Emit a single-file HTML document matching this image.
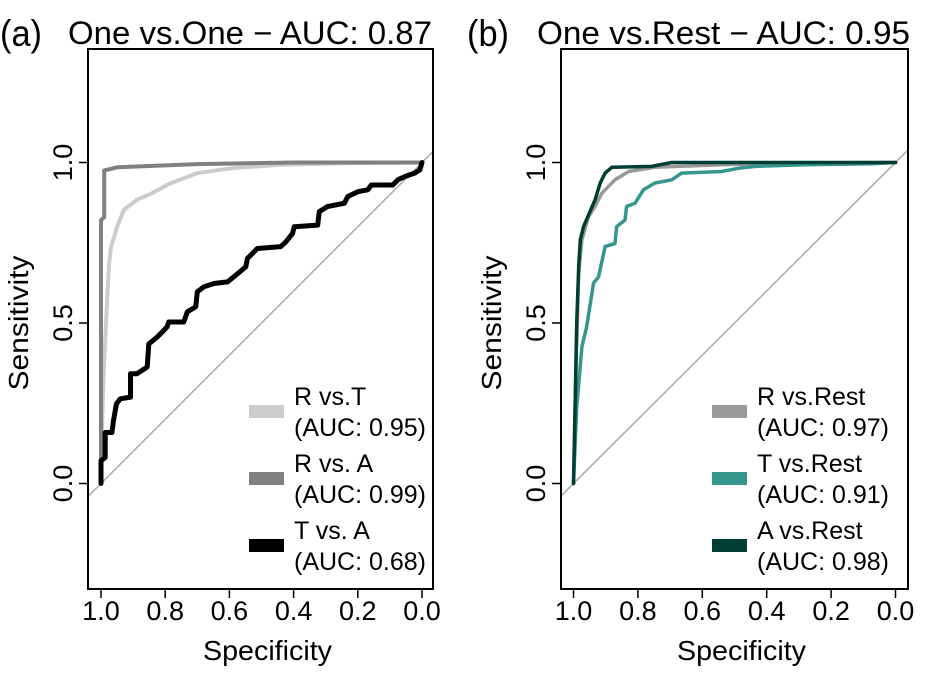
<!DOCTYPE html>
<html><head><meta charset="utf-8"><style>
html,body{margin:0;padding:0;background:#fff;}
svg{display:block;font-family:"Liberation Sans",Arial,sans-serif;}
</style></head><body>
<svg id="chart" width="931" height="683" viewBox="0 0 931 683"></svg>
<script>
// Panel (a) data: specificity / sensitivity
const aRTSpec=[1,0.996,0.992,0.981,0.975,0.969,0.955,0.95,0.929,0.888,0.841,0.784,0.7,0.596,0.44,0.231,0];
const aRTSens=[0,0.2,0.342,0.571,0.68,0.738,0.78,0.8,0.852,0.884,0.904,0.935,0.967,0.982,0.993,0.998,1];
const aRASpec=[1,1,0.99,0.99,0.95,0.7,0.4,0];
const aRASens=[0,0.82,0.83,0.975,0.985,0.995,1,1];
const aTASpec=[1,1,0.987,0.987,0.966,0.961,0.952,0.94,0.908,0.908,0.888,0.856,0.851,0.825,0.794,0.789,0.742,0.731,0.705,0.7,0.679,0.648,0.606,0.58,0.549,0.544,0.523,0.513,0.44,0.424,0.403,0.398,0.325,0.32,0.294,0.242,0.231,0.2,0.169,0.158,0.091,0.075,0.054,0.023,0.007,0.002,0];
const aTASens=[0,0.071,0.081,0.159,0.159,0.196,0.248,0.264,0.269,0.342,0.342,0.363,0.435,0.456,0.488,0.503,0.503,0.535,0.55,0.597,0.613,0.623,0.628,0.649,0.675,0.701,0.722,0.732,0.738,0.753,0.779,0.8,0.805,0.847,0.863,0.873,0.894,0.909,0.915,0.93,0.93,0.946,0.956,0.967,0.977,0.993,1];
// Panel (b) data
const bRSpec=[1,0.993,0.984,0.974,0.953,0.933,0.912,0.871,0.829,0.747,0.54,0.333,0];
const bRSens=[0,0.343,0.655,0.759,0.832,0.863,0.904,0.946,0.972,0.985,0.993,0.998,1];
const bTSpec=[1,0.99,0.974,0.959,0.938,0.922,0.902,0.871,0.866,0.84,0.835,0.809,0.783,0.747,0.695,0.664,0.54,0.488,0.436,0.281,0.074,0];
const bTSens=[0,0.239,0.426,0.489,0.624,0.644,0.738,0.748,0.8,0.821,0.863,0.873,0.915,0.936,0.946,0.967,0.972,0.982,0.988,0.993,0.996,1];
const bASpec=[1,0.995,0.99,0.984,0.979,0.969,0.953,0.933,0.917,0.902,0.881,0.757,0.695,0];
const bASens=[0,0.239,0.499,0.676,0.759,0.8,0.837,0.884,0.936,0.967,0.985,0.988,1,1];
const xTicks=[1.0,0.8,0.6,0.4,0.2,0.0];
const yTicks=[0.0,0.5,1.0];
const legendA=[["R vs.T","(AUC: 0.95)","#cccccc"],["R vs. A","(AUC: 0.99)","#808080"],["T vs. A","(AUC: 0.68)","#000000"]];
const legendB=[["R vs.Rest","(AUC: 0.97)","#999999"],["T vs.Rest","(AUC: 0.91)","#35968c"],["A vs.Rest","(AUC: 0.98)","#003d33"]];

const svg=document.getElementById('chart');
const NS='http://www.w3.org/2000/svg';
function mk(tag,attrs,parent){const e=document.createElementNS(NS,tag);for(const k in attrs)e.setAttribute(k,attrs[k]);(parent||svg).appendChild(e);return e;}

function panel(p){
  const g=mk('g',{});
  
  
  const xs=s=>p.x0+(1-s)*p.ux;
  const ys=v=>p.y0-v*p.uy;
  const clipId='clip-'+p.name;
  const cp=mk('clipPath',{id:clipId},g);
  mk('rect',{x:p.bl,y:p.bt,width:p.br-p.bl,height:p.bb-p.bt},cp);
  const diag=mk('line',{x1:xs(1.2),y1:ys(-0.2),x2:xs(-0.2),y2:ys(1.2),stroke:'#aaaaaa','stroke-width':1.5,'clip-path':'url(#'+clipId+')'},g);
  
  
  p.series.forEach(s=>{
    const d=s.sp.map((v,i)=>(i?'L':'M')+xs(v).toFixed(1)+','+ys(s.se[i]).toFixed(1)).join('');
    const path=mk('path',{d:d,fill:'none',stroke:s.color,'stroke-width':s.w,'stroke-linejoin':'round','stroke-linecap':'round'},g);
    
    
  });
  const box=mk('rect',{x:p.bl,y:p.bt,width:p.br-p.bl,height:p.bb-p.bt,fill:'none',stroke:'#000','stroke-width':2},g);
  
  
  xTicks.forEach(t=>{
    mk('line',{x1:xs(t),y1:p.bb,x2:xs(t),y2:p.bb+9,stroke:'#000','stroke-width':1.5},g);
    const tx=mk('text',{x:xs(t),y:620,'font-size':27,'text-anchor':'middle'},g);
    tx.textContent=t.toFixed(1);
    
    
  });
  yTicks.forEach(t=>{
    mk('line',{x1:p.bl-9,y1:ys(t),x2:p.bl,y2:ys(t),stroke:'#000','stroke-width':1.5},g);
    const tx=mk('text',{x:0,y:0,'font-size':27,'text-anchor':'middle',transform:'translate('+(p.bl-16)+','+ys(t)+') rotate(-90)'},g);
    tx.textContent=t.toFixed(1);
    
    
  });
  const xt=mk('text',{x:(p.bl+p.br)/2+7,y:660,'font-size':28,'text-anchor':'middle',textLength:129,lengthAdjust:'spacingAndGlyphs'},g);
  xt.textContent='Specificity';
  
  
  const yt=mk('text',{x:0,y:0,'font-size':28,'text-anchor':'middle',textLength:135,lengthAdjust:'spacingAndGlyphs',transform:'translate('+(p.bl-60)+','+ys(0.5)+') rotate(-90)'},g);
  yt.textContent='Sensitivity';
  
  
  const lab=mk('text',{x:p.labX,y:46,'font-size':37,textLength:42,lengthAdjust:'spacingAndGlyphs'},g);
  lab.textContent=p.label;
  
  
  const ti=mk('text',{x:p.titleX,y:44,'font-size':32,textLength:p.titleW,lengthAdjust:'spacingAndGlyphs'},g);
  ti.textContent=p.title;
  
  
  p.legend.forEach((l,i)=>{
    const cy=411+i*67;
    const lg=mk('g',{},g);
    
    
    mk('rect',{x:p.legX,y:cy-6,width:35,height:13,fill:l[2]},lg);
    const t1=mk('text',{x:p.legX+45,y:cy-6,'font-size':25},lg);t1.textContent=l[0];
    const t2=mk('text',{x:p.legX+45,y:cy+25,'font-size':25},lg);t2.textContent=l[1];
  });
}
panel({name:'panel-a',x0:101,ux:321,y0:483.5,uy:321,bl:88,br:433,bt:49,bb:589,labX:0,titleX:68,titleW:364,label:'(a)',title:'One vs.One \u2212 AUC: 0.87',legX:249,legend:legendA,
  series:[{name:'curve-r-vs-t',sp:aRTSpec,se:aRTSens,color:'#cccccc',w:4},{name:'curve-r-vs-a',sp:aRASpec,se:aRASens,color:'#808080',w:4},{name:'curve-t-vs-a',sp:aTASpec,se:aTASens,color:'#000000',w:5}]});
panel({name:'panel-b',x0:573.5,ux:322,y0:483.5,uy:321,bl:561,br:908,bt:49,bb:589,labX:467,titleX:537,titleW:373,label:'(b)',title:'One vs.Rest \u2212 AUC: 0.95',legX:712,legend:legendB,
  series:[{name:'curve-r-vs-rest',sp:bRSpec,se:bRSens,color:'#999999',w:3.5},{name:'curve-t-vs-rest',sp:bTSpec,se:bTSens,color:'#35968c',w:3.5},{name:'curve-a-vs-rest',sp:bASpec,se:bASens,color:'#003d33',w:3.5}]});
</script>
</body></html>
